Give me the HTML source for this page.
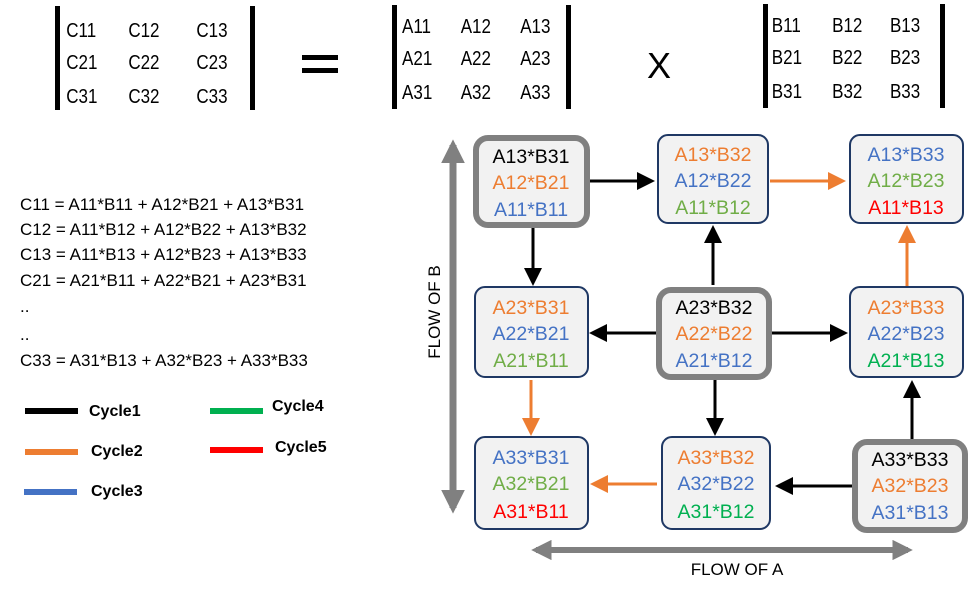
<!DOCTYPE html>
<html><head><meta charset="utf-8"><style>
body{margin:0;background:#fff;}
svg{display:block;font-family:"Liberation Sans",Arial,sans-serif;}
</style></head><body>
<svg width="973" height="598" viewBox="0 0 973 598" xmlns="http://www.w3.org/2000/svg">
<defs>
<marker id="ak" markerWidth="6" markerHeight="6" refX="5" refY="3" orient="auto" markerUnits="strokeWidth"><path d="M0,0 L6,3 L0,6 Z" fill="#000"/></marker>
<marker id="ao" markerWidth="6" markerHeight="6" refX="5" refY="3" orient="auto" markerUnits="strokeWidth"><path d="M0,0 L6,3 L0,6 Z" fill="#ED7D31"/></marker>
<marker id="ag" markerWidth="3.4" markerHeight="3.4" refX="2.6" refY="1.7" orient="auto" markerUnits="strokeWidth"><path d="M0,0 L3.4,1.7 L0,3.4 Z" fill="#808080"/></marker>
</defs>
<!-- matrices -->
<g font-size="20" fill="#000">
<rect x="55" y="6" width="5" height="104" fill="#000"/><rect x="250" y="6" width="5" height="104" fill="#000"/>
<g transform="scale(0.85,1)">
<text x="78" y="37">C11</text><text x="151" y="37">C12</text><text x="231" y="37">C13</text>
<text x="78" y="69">C21</text><text x="151" y="69">C22</text><text x="231" y="69">C23</text>
<text x="78" y="103">C31</text><text x="151" y="103">C32</text><text x="231" y="103">C33</text>
<text x="473" y="33">A11</text><text x="542" y="33">A12</text><text x="612" y="33">A13</text>
<text x="473" y="65">A21</text><text x="542" y="65">A22</text><text x="612" y="65">A23</text>
<text x="473" y="99">A31</text><text x="542" y="99">A32</text><text x="612" y="99">A33</text>
<text x="908" y="32">B11</text><text x="979" y="32">B12</text><text x="1047" y="32">B13</text>
<text x="908" y="64">B21</text><text x="979" y="64">B22</text><text x="1047" y="64">B23</text>
<text x="908" y="98">B31</text><text x="979" y="98">B32</text><text x="1047" y="98">B33</text>
</g>
<rect x="302" y="55" width="36" height="5"/><rect x="302" y="68" width="36" height="5"/>
<rect x="392" y="5" width="5" height="104"/><rect x="566" y="5" width="5" height="104"/>
<text x="647" y="78" font-size="36">X</text>
<rect x="763" y="4" width="5" height="104"/><rect x="940" y="4" width="5" height="104"/>
</g>
<!-- equations -->
<g font-size="17" fill="#000">
<text x="20" y="210">C11 = A11*B11 + A12*B21 + A13*B31</text>
<text x="20" y="235">C12 = A11*B12 + A12*B22 + A13*B32</text>
<text x="20" y="260">C13 = A11*B13 + A12*B23 + A13*B33</text>
<text x="20" y="286">C21 = A21*B11 + A22*B21 + A23*B31</text>
<text x="20" y="312">..</text>
<text x="20" y="340">..</text>
<text x="20" y="366">C33 = A31*B13 + A32*B23 + A33*B33</text>
</g>
<!-- legend -->
<g font-size="16" font-weight="bold" fill="#000">
<rect x="25" y="408" width="53" height="6" fill="#000"/><text x="89" y="416">Cycle1</text>
<rect x="25" y="449" width="53" height="6" fill="#ED7D31"/><text x="91" y="456">Cycle2</text>
<rect x="24" y="489" width="53" height="6" fill="#4472C4"/><text x="91" y="496">Cycle3</text>
<rect x="210" y="408" width="53" height="6" fill="#00B050"/><text x="272" y="411">Cycle4</text>
<rect x="210" y="447" width="53" height="6" fill="#FF0000"/><text x="275" y="452">Cycle5</text>
</g>
<!-- flows -->
<line x1="453" y1="500" x2="453" y2="145" stroke="#808080" stroke-width="7" marker-end="url(#ag)"/>
<line x1="453" y1="160" x2="453" y2="508" stroke="#808080" stroke-width="7" marker-end="url(#ag)"/>
<text transform="translate(440,312) rotate(-90)" font-size="17" text-anchor="middle" fill="#000">FLOW OF B</text>
<line x1="550" y1="550" x2="908" y2="550" stroke="#808080" stroke-width="6" marker-end="url(#ag)"/>
<line x1="895" y1="550" x2="536" y2="550" stroke="#808080" stroke-width="6" marker-end="url(#ag)"/>
<text x="737" y="575" font-size="17" text-anchor="middle" fill="#000">FLOW OF A</text>
<!-- arrows -->
<g stroke-width="3" fill="none">
<line x1="590" y1="181" x2="652" y2="181" stroke="#000" marker-end="url(#ak)"/>
<line x1="770" y1="181" x2="843" y2="181" stroke="#ED7D31" marker-end="url(#ao)"/>
<line x1="533" y1="228" x2="533" y2="283" stroke="#000" marker-end="url(#ak)"/>
<line x1="713" y1="285" x2="713" y2="228" stroke="#000" marker-end="url(#ak)"/>
<line x1="907" y1="287" x2="907" y2="228" stroke="#ED7D31" marker-end="url(#ao)"/>
<line x1="656" y1="333" x2="592" y2="333" stroke="#000" marker-end="url(#ak)"/>
<line x1="770" y1="333" x2="845" y2="333" stroke="#000" marker-end="url(#ak)"/>
<line x1="531" y1="380" x2="531" y2="433" stroke="#ED7D31" marker-end="url(#ao)"/>
<line x1="715" y1="380" x2="715" y2="433" stroke="#000" marker-end="url(#ak)"/>
<line x1="912" y1="442" x2="912" y2="383" stroke="#000" marker-end="url(#ak)"/>
<line x1="657" y1="484" x2="593" y2="484" stroke="#ED7D31" marker-end="url(#ao)"/>
<line x1="853" y1="486" x2="778" y2="486" stroke="#000" marker-end="url(#ak)"/>
</g>
<!-- boxes -->
<g fill="#F2F2F2">
<rect x="476" y="138" width="111" height="87" rx="12" stroke="#808080" stroke-width="6"/>
<rect x="658" y="135" width="110" height="88" rx="10" stroke="#1F3864" stroke-width="2"/>
<rect x="850" y="135" width="113" height="88" rx="10" stroke="#1F3864" stroke-width="2"/>
<rect x="475" y="287" width="113" height="90" rx="10" stroke="#1F3864" stroke-width="2"/>
<rect x="659" y="290" width="110" height="87" rx="12" stroke="#808080" stroke-width="6"/>
<rect x="850" y="287" width="113" height="90" rx="10" stroke="#1F3864" stroke-width="2"/>
<rect x="475" y="437" width="113" height="92" rx="10" stroke="#1F3864" stroke-width="2"/>
<rect x="662" y="437" width="108" height="92" rx="10" stroke="#1F3864" stroke-width="2"/>
<rect x="855" y="442" width="110" height="88" rx="12" stroke="#808080" stroke-width="6"/>
</g>
<g font-size="19.5" text-anchor="middle">
<text x="531" y="163" fill="#000">A13*B31</text>
<text x="531" y="189" fill="#ED7D31">A12*B21</text>
<text x="531" y="216" fill="#4472C4">A11*B11</text>
<text x="713" y="161" fill="#ED7D31">A13*B32</text>
<text x="713" y="187" fill="#4472C4">A12*B22</text>
<text x="713" y="214" fill="#70AD47">A11*B12</text>
<text x="906" y="161" fill="#4472C4">A13*B33</text>
<text x="906" y="187" fill="#70AD47">A12*B23</text>
<text x="906" y="214" fill="#FF0000">A11*B13</text>
<text x="531" y="314" fill="#ED7D31">A23*B31</text>
<text x="531" y="340" fill="#4472C4">A22*B21</text>
<text x="531" y="367" fill="#70AD47">A21*B11</text>
<text x="714" y="314" fill="#000">A23*B32</text>
<text x="714" y="340" fill="#ED7D31">A22*B22</text>
<text x="714" y="367" fill="#4472C4">A21*B12</text>
<text x="906" y="314" fill="#ED7D31">A23*B33</text>
<text x="906" y="340" fill="#4472C4">A22*B23</text>
<text x="906" y="367" fill="#00B050">A21*B13</text>
<text x="531" y="464" fill="#4472C4">A33*B31</text>
<text x="531" y="490" fill="#70AD47">A32*B21</text>
<text x="531" y="518" fill="#FF0000">A31*B11</text>
<text x="716" y="464" fill="#ED7D31">A33*B32</text>
<text x="716" y="490" fill="#4472C4">A32*B22</text>
<text x="716" y="518" fill="#00B050">A31*B12</text>
<text x="910" y="466" fill="#000">A33*B33</text>
<text x="910" y="492" fill="#ED7D31">A32*B23</text>
<text x="910" y="519" fill="#4472C4">A31*B13</text>
</g>
</svg>
</body></html>
